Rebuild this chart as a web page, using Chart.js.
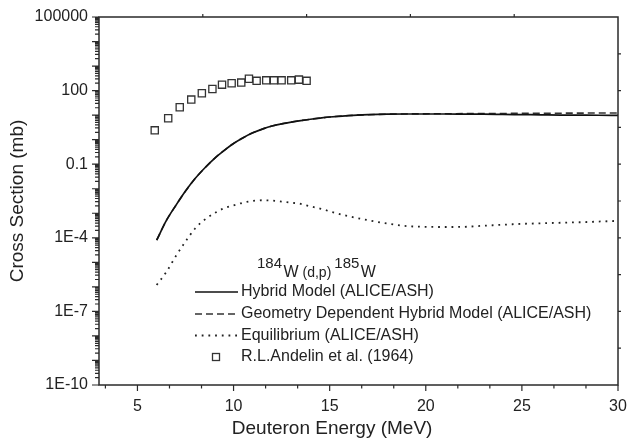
<!DOCTYPE html>
<html><head><meta charset="utf-8">
<script src="https://cdn.jsdelivr.net/npm/chart.js@4.4.1/dist/chart.umd.min.js"></script>
<style>html,body{margin:0;padding:0;background:#fff;overflow:hidden}canvas{display:block}</style>
</head><body>
<canvas id="c" width="628" height="442"></canvas>
<script>
// ---- data ----
const energyTheory = [6,6.5,7,7.5,8,8.5,9,9.5,10,10.5,11,11.5,12,12.5,13,13.5,14,14.5,15,16,17,18,19,20,21,22,23,24,25,26,27,28,29,30];
const hybridModel = [8e-5,5e-4,2.1e-3,8e-3,0.026,0.07,0.17,0.36,0.7,1.2,1.9,2.7,3.6,4.4,5.2,6.0,6.8,7.6,8.4,9.6,10.4,10.9,11.1,11.1,11.1,11.0,10.9,10.7,10.5,10.3,10.1,10.0,9.9,9.7];
const geometryDependent = [8e-5,5e-4,2.1e-3,8e-3,0.026,0.07,0.17,0.36,0.7,1.2,1.9,2.7,3.6,4.4,5.2,6.0,6.8,7.6,8.4,9.6,10.4,10.9,11.2,11.3,11.4,11.5,11.6,11.7,11.8,11.9,12.0,12.1,12.2,12.3];
const equilibrium = [1.2e-6,4e-6,1.8e-5,7e-5,2.4e-4,5.5e-4,1.0e-3,1.6e-3,2.1e-3,2.7e-3,3.2e-3,3.4e-3,3.3e-3,3.0e-3,2.7e-3,2.4e-3,1.9e-3,1.55e-3,1.2e-3,7.5e-4,5.2e-4,3.8e-4,3.0e-4,2.8e-4,2.75e-4,2.8e-4,3.1e-4,3.4e-4,3.7e-4,3.9e-4,4.1e-4,4.3e-4,4.6e-4,4.9e-4];
const andelinEnergy = [5.9,6.6,7.2,7.8,8.35,8.9,9.4,9.9,10.4,10.8,11.2,11.7,12.1,12.5,13.0,13.4,13.8];
const andelinXS = [2.4,7.5,21,43,78,117,175,200,212,305,250,262,262,262,262,280,250];
const seriesLabels = ['Hybrid Model (ALICE/ASH)','Geometry Dependent Hybrid Model (ALICE/ASH)','Equilibrium (ALICE/ASH)','R.L.Andelin et al. (1964)'];
const reactionParts = ['184','W',' (d,p)','185','W'];
const xTickValues = [5,10,15,20,25,30];
const yTickValues = [1e-10,1e-7,1e-4,0.1,100,1e5];
const yTickLabels = ['1E-10','1E-7','1E-4','0.1','100','100000'];
const xTitle = 'Deuteron Energy (MeV)';
const yTitle = 'Cross Section (mb)';

const FONT = '"Liberation Sans", Arial, Helvetica, sans-serif';
const pairs = (xs, ys) => xs.map((v, i) => ({x: v, y: ys[i]}));

const frameTicks = {
  id: 'frameTicks',
  afterDraw(chart) {
    const {ctx, chartArea: a, scales: {x, y}} = chart;
    ctx.save();
    ctx.strokeStyle = '#2a2a2a';
    ctx.lineWidth = 1.5;
    ctx.strokeRect(a.left, a.top, a.right - a.left, a.bottom - a.top);
    ctx.lineWidth = 1.2;
    ctx.beginPath();
    for (let k = 2; k <= 18; k++) {
      const px = x.getPixelForValue(k * 5 / 3);
      const len = k % 3 === 0 ? 6 : 3.5;
      ctx.moveTo(px, a.bottom); ctx.lineTo(px, a.bottom + len);
    }
    for (let e = -10; e <= 5; e++) {
      for (let m = 1; m <= 9; m++) {
        const v = m * Math.pow(10, e);
        if (v > 1.0001e5) break;
        const py = y.getPixelForValue(v);
        const len = m === 1 ? 7 : 4;
        ctx.moveTo(a.left, py); ctx.lineTo(a.left - len, py);
      }
    }
    for (let k = 1; k <= 4; k++) {
      const px = x.getPixelForValue(3 + 5.4 * k);
      ctx.moveTo(px, a.top); ctx.lineTo(px, a.top - 3);
    }
    for (let k = 1; k <= 9; k++) {
      const py = y.getPixelForValue(Math.pow(10, -10 + 1.5 * k));
      ctx.moveTo(a.right, py); ctx.lineTo(a.right + 3, py);
    }
    ctx.stroke();
    ctx.restore();
  }
};

const insideLegend = {
  id: 'insideLegend',
  afterDraw(chart) {
    const {ctx} = chart;
    ctx.save();
    ctx.fillStyle = '#222';
    ctx.textBaseline = 'alphabetic';
    const styles = [[15, 268], [16, 277.3], [14, 277.3], [15, 268], [16, 277.3]];
    const gaps = [1.5, 0, 3, 1.5, 0];
    let cx = 257;
    reactionParts.forEach((t, i) => {
      ctx.font = styles[i][0] + 'px ' + FONT;
      ctx.fillText(t, cx, styles[i][1]);
      cx += ctx.measureText(t).width + gaps[i];
    });
    const rowY = [292, 314, 335.5, 357];
    chart.data.datasets.forEach((ds, i) => {
      const yy = rowY[i];
      ctx.save();
      if (ds.showLine === false) {
        ctx.strokeStyle = ds.pointBorderColor;
        ctx.lineWidth = ds.pointBorderWidth;
        ctx.strokeRect(212.5, yy - 3.5, 7, 7);
      } else {
        ctx.strokeStyle = ds.borderColor;
        ctx.lineWidth = ds.borderWidth;
        ctx.setLineDash(ds.borderDash || []);
        ctx.beginPath(); ctx.moveTo(195, yy); ctx.lineTo(238, yy); ctx.stroke();
      }
      ctx.restore();
      ctx.font = '16px ' + FONT;
      ctx.textBaseline = 'middle';
      ctx.fillText(ds.label, 241, yy);
    });
    ctx.restore();
  }
};

new Chart(document.getElementById('c'), {
  type: 'line',
  data: {
    datasets: [
      {label: seriesLabels[0], data: pairs(energyTheory, hybridModel), borderColor: '#111', borderWidth: 1.7, pointRadius: 0, cubicInterpolationMode: 'monotone', fill: false},
      {label: seriesLabels[1], data: pairs(energyTheory, geometryDependent), borderColor: '#333', borderWidth: 1.6, borderDash: [7, 4], pointRadius: 0, cubicInterpolationMode: 'monotone', fill: false},
      {label: seriesLabels[2], data: pairs(energyTheory, equilibrium), borderColor: '#222', borderWidth: 1.8, borderDash: [1.8, 4.9], pointRadius: 0, cubicInterpolationMode: 'monotone', fill: false},
      {label: seriesLabels[3], data: pairs(andelinEnergy, andelinXS), showLine: false, pointStyle: 'rect', pointRadius: 5.1, pointBorderColor: '#333', pointBackgroundColor: 'rgba(255,255,255,0)', pointBorderWidth: 1.3}
    ]
  },
  options: {
    responsive: false,
    animation: false,
    devicePixelRatio: 1,
    layout: {padding: {top: 17, right: 10, left: 0, bottom: 0}},
    plugins: {legend: {display: false}, tooltip: {enabled: false}},
    scales: {
      x: {
        type: 'linear', min: 3, max: 30,
        afterBuildTicks: s => { s.ticks = xTickValues.map(v => ({value: v})); },
        afterFit: s => { s.height = 57; },
        grid: {display: false, drawTicks: true, tickLength: 12},
        border: {display: false},
        ticks: {color: '#222', font: {family: FONT, size: 16}, padding: 0, maxRotation: 0},
        title: {display: true, text: xTitle + '\u00A0'.repeat(10), color: '#222', font: {family: FONT, size: 19}, padding: {top: 0, bottom: 2}}
      },
      y: {
        type: 'logarithmic', min: 1e-10, max: 1e5,
        afterBuildTicks: s => { s.ticks = yTickValues.map(v => ({value: v})); },
        afterFit: s => { s.width = 99; },
        grid: {display: false, drawTicks: true, tickLength: 11},
        border: {display: false},
        ticks: {color: '#222', font: {family: FONT, size: 16}, padding: 0, autoSkip: false,
          callback: (v, i) => yTickLabels[i]},
        title: {display: true, text: yTitle, color: '#222', font: {family: FONT, size: 19}, padding: {top: 6, bottom: 0}}
      }
    }
  },
  plugins: [frameTicks, insideLegend]
});
</script>
</body></html>
